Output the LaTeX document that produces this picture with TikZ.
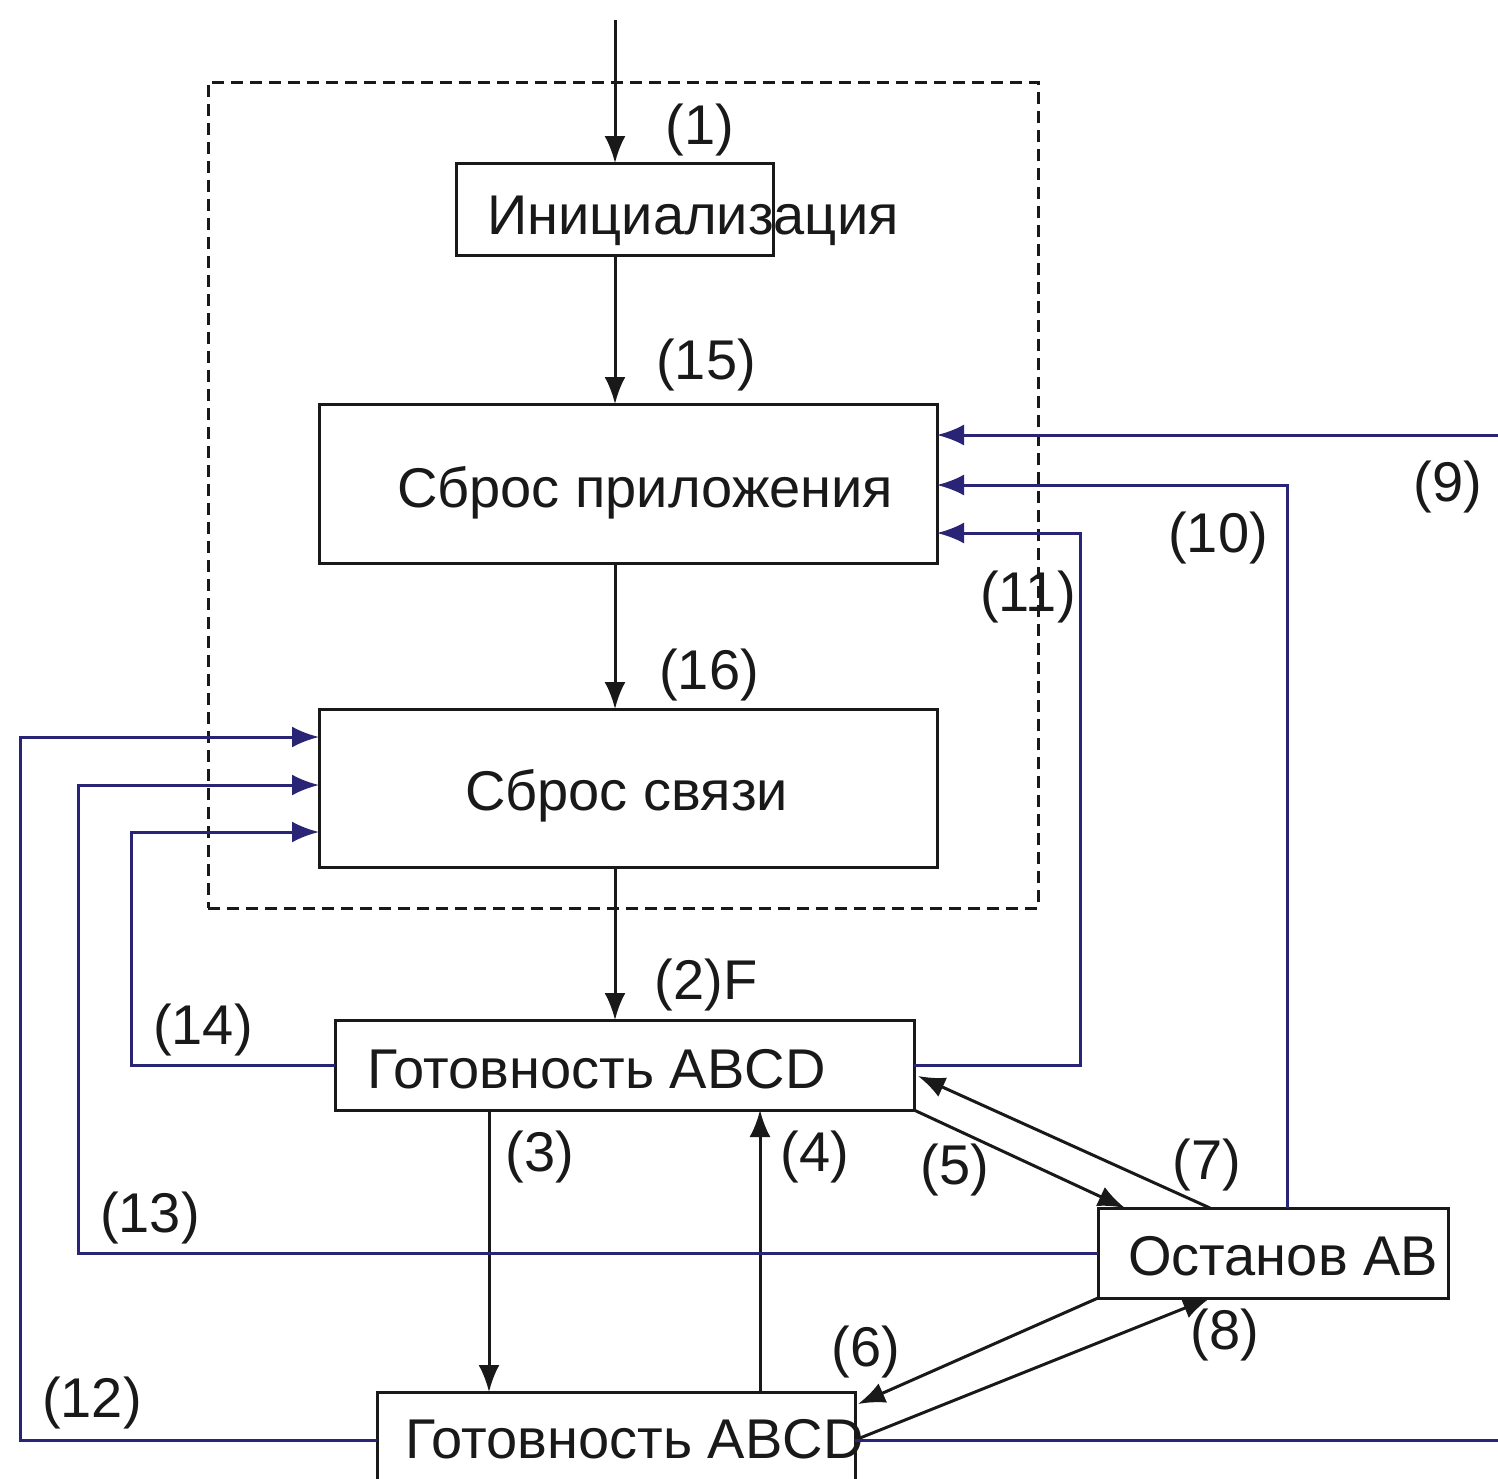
\documentclass[tikz,border=0pt]{standalone}
\usepackage{fontspec}
\setmainfont{Liberation Sans}
\usetikzlibrary{arrows.meta}
\definecolor{navy}{RGB}{42,36,118}
\definecolor{ink}{RGB}{25,25,25}
\begin{document}
\begin{tikzpicture}[x=1pt,y=-1pt,
  every node/.style={font=\fontsize{56}{62}\selectfont, text=ink},
  box/.style={draw=ink, line width=3pt, inner sep=0pt, outer sep=0pt},
  dbox/.style={draw=ink, line width=3pt, dash pattern=on 12pt off 7pt, inner sep=0pt, outer sep=0pt},
  txt/.style={inner sep=0pt, anchor=base west},
  lab/.style={inner sep=0pt},
  blk/.style={draw=ink, line width=3pt, -{Latex[length=27pt,width=21pt]}},
  blu/.style={draw=navy, line width=3pt, -{Latex[length=27pt,width=21pt]}}]
\useasboundingbox (0,0) rectangle (1498,1478);
\clip (0,0) rectangle (1498,1478);
\fill[white] (0,0) rectangle (1498,1478);

% group frame
\node[dbox, minimum width=830pt, minimum height=826pt] (grp) at (623,495) {};

% boxes
\node[box, minimum width=317pt, minimum height=92pt] (init) at (614.5,209) {};
\node[box, minimum width=618pt, minimum height=159pt] (sp) at (628,483.5) {};
\node[box, minimum width=618pt, minimum height=158pt] (ss) at (628,788) {};
\node[box, minimum width=579pt, minimum height=90pt] (g1) at (624.5,1065) {};
\node[box, minimum width=478pt, minimum height=96pt] (g2) at (616,1440) {};
\node[box, minimum width=350pt, minimum height=90pt] (ab) at (1273,1253) {};

% texts
\node[txt] (tinit) at (487,234) {Инициализация};
\node[txt] (tsp) at (397,507) {Сброс приложения};
\node[txt] (tss) at (465,810) {Сброс связи};
\node[txt] (tg1) at (367,1088) {Готовность ABCD};
\node[txt] (tab) at (1128,1275) {Останов AB};
\node[txt] (tg2) at (405,1458) {Готовность ABCD};

% helper coordinates
\coordinate (start) at (615,20);
\coordinate (x3) at (489,0);
\coordinate (x4) at (760,0);
\coordinate (r9) at (1530,435);
\coordinate (r10) at (1287,485);
\coordinate (r11) at (1080,533);
\coordinate (l12) at (20,737);
\coordinate (l13) at (78,785);
\coordinate (l14) at (131,832);
\coordinate (p5) at (1125,1208);
\coordinate (p7s) at (1210,1208);
\coordinate (p7e) at (918,1076);
\coordinate (p6e) at (858,1404);
\coordinate (p8e) at (1210,1298);

% black connectors
\draw[blk] (start) -- (init.north -| start);
\draw[blk] (init.south -| start) -- (sp.north -| start);
\draw[blk] (sp.south -| start) -- (ss.north -| start);
\draw[blk] (ss.south -| start) -- (g1.north -| start);
\draw[blk] (g1.south -| x3) -- (g2.north -| x3);
\draw[blk] (g2.north -| x4) -- (g1.south -| x4);
\draw[blk] (g1.south east) -- (p5);
\draw[blk] (p7s) -- (p7e);
\draw[blk] (ab.south west) -- (p6e);
\draw[blk] (g2.east) -- (p8e);

% blue connectors
\draw[blu] (g2.east) -| (r9) -- (r9 -| sp.east);
\draw[blu] (ab.north -| r10) -- (r10) -- (r10 -| sp.east);
\draw[blu] (g1.east) -| (r11) -- (r11 -| sp.east);
\draw[blu] (g2.west) -| (l12) -- (l12 -| ss.west);
\draw[blu] (ab.west) -| (l13) -- (l13 -| ss.west);
\draw[blu] (g1.west) -| (l14) -- (l14 -| ss.west);

% labels
\node[lab] (n1) at (700,130) {(1)};
\node[lab] (n15) at (706,365) {(15)};
\node[lab] (n16) at (709,675) {(16)};
\node[lab] (n2) at (706,985) {(2)F};
\node[lab] (n9) at (1448,487) {(9)};
\node[lab] (n10) at (1218,538) {(10)};
\node[lab] (n11) at (1028,597) {(11)};
\node[lab] (n12) at (92,1403) {(12)};
\node[lab] (n13) at (150,1218) {(13)};
\node[lab] (n14) at (203,1030) {(14)};
\node[lab] (n3) at (540,1157) {(3)};
\node[lab] (n4) at (815,1157) {(4)};
\node[lab] (n5) at (955,1170) {(5)};
\node[lab] (n7) at (1207,1165) {(7)};
\node[lab] (n6) at (866,1352) {(6)};
\node[lab] (n8) at (1225,1335) {(8)};
\end{tikzpicture}
\end{document}
